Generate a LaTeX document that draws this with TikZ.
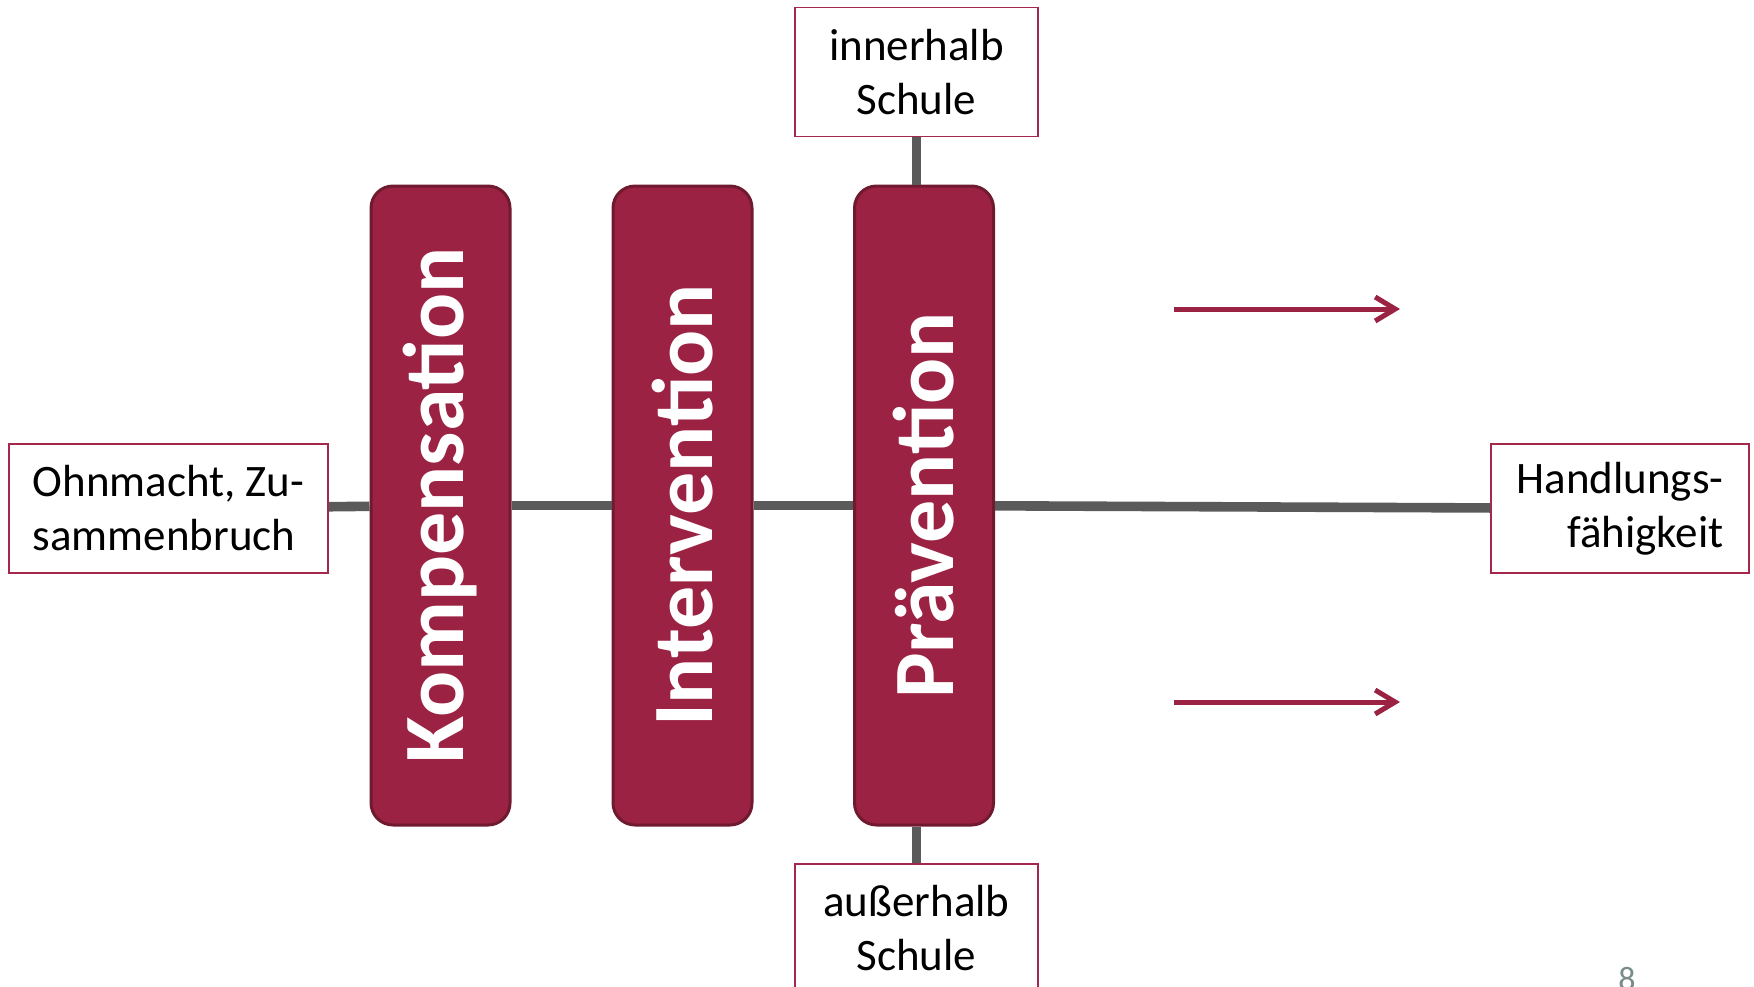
\documentclass[tikz,border=0pt]{standalone}
\usepackage{fontspec}
\setmainfont{Carlito}
\usetikzlibrary{arrows.meta,positioning,calc}
\definecolor{colorBox}{HTML}{9B2242}
\definecolor{colorBoxLine}{HTML}{701A30}
\definecolor{colorFrame}{HTML}{A3284B}
\definecolor{colorConn}{HTML}{5A5A5A}
\definecolor{colorPage}{HTML}{7A8B8C}
\tikzset{
   every path/.style={>=stealth},
   phase/.style={rectangle,rotate=90,rounded corners=11pt,fill=colorBox,draw=colorBoxLine,line width=1.5pt,
      minimum width=319.5pt,minimum height=69.5pt,inner sep=0pt,text=white,
      font=\bfseries\fontsize{43}{50}\selectfont},
   txtbox/.style={rectangle,draw=colorFrame,line width=0.75pt,fill=white,minimum height=64.5pt,inner sep=0pt,
      font=\fontsize{22.5}{27}\selectfont},
   conn/.style={-,draw=colorConn,line width=4.8pt},
   pfeil/.style={-{Straight Barb[length=10pt,width=12pt]},draw=colorBox,line width=2.5pt},
}

\begin{document}
\begin{tikzpicture}[x=0.5pt,y=-0.5pt]
      \useasboundingbox (0,0) rectangle (1754,986);
      % phases
      \node[phase] (komp) at (440.5,505.5) {Kompensation};
      \node[phase] (inter) at (682.5,505.5) {Intervention};
      \node[phase] (prae) at (924,505.5) {Prävention};
      % text boxes
      \node[txtbox,minimum width=159.5pt,align=left] (ohn) at (168.5,508.5) {Ohnmacht, Zu-\\sammenbruch};
      \node[txtbox,minimum width=129pt,align=right] (hand) at (1620,508.5) {Handlungs-\\fähigkeit};
      \node[txtbox,minimum width=121.5pt,align=center] (inner) at (916.5,72) {innerhalb\\Schule};
      \node[txtbox,minimum width=121.5pt,align=center] (ausser) at (916.5,928.5) {außerhalb\\Schule};
      % connectors
      \draw[conn] (ohn) -- (komp);
      \draw[conn] (komp) -- (inter);
      \draw[conn] (inter) -- (prae);
      \draw[conn] (prae) -- (hand);
      \draw[conn] (inner) -- (inner |- prae.east);
      \draw[conn] (ausser) -- (ausser |- prae.west);
      % arrows
      \coordinate (p1a) at (1174,309);
      \coordinate (p1b) at (1400,309);
      \coordinate (p2a) at (1174,702);
      \coordinate (p2b) at (1400,702);
      \draw[pfeil] (p1a) -- (p1b);
      \draw[pfeil] (p2a) -- (p2b);
      % page number
      \node[anchor=north,inner sep=0pt,text=colorPage,font=\fontsize{17}{20}\selectfont] (page) at (1627,967) {8};
    \end{tikzpicture}
\end{document}
